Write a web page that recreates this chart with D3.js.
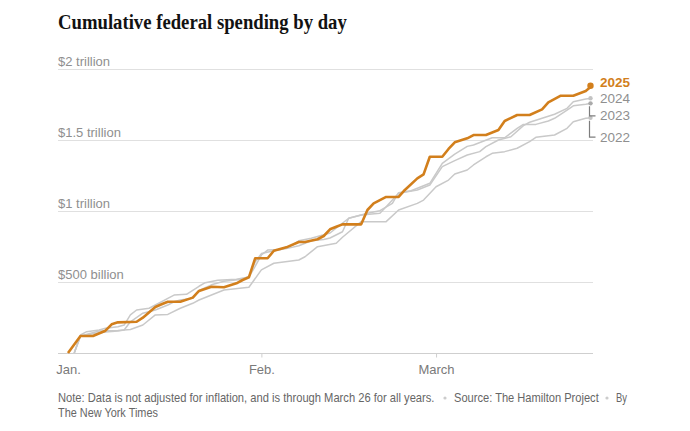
<!DOCTYPE html>
<html>
<head>
<meta charset="utf-8">
<script src="https://cdn.jsdelivr.net/npm/d3@7"></script>
<style>
  html, body { margin: 0; padding: 0; background: #fff; }
  svg { display: block; }
</style>
</head>
<body>
<svg id="chart" width="690" height="431"></svg>
<script>
// ---- Data (day index: Jan 1 = 0, Feb 1 = 31, Mar 1 = 59, Mar 26 = 84; values in $ billions) ----
const years = ["2022", "2023", "2024", "2025"];

const days2025 = [0,2,4,6,7,8,11,12,14,15,16,18,20,21,23,25,27,28,29,30,32,33,35,37,38,40,41,42,43,44,47,48,49,51,53,54,56,57,58,60,61,62,64,65,67,69,70,72,74,76,77,79,81,83,84];
const vals2025 = [0,120,120,157,202,216,220,249,324,343,361,361,390,437,467,463,491,514,533,667,667,720,744,782,782,801,824,871,889,906,906,1007,1054,1099,1099,1148,1230,1258,1382,1382,1437,1484,1512,1535,1535,1570,1634,1676,1676,1716,1765,1812,1812,1845,1882];

const days2024 = [1,2,4,6,8,9,10,12,14,16,17,18,20,21,23,25,28,29,30,31,33,35,37,39,41,42,44,45,47,50,51,53,56,58,60,62,64,66,67,69,71,73,74,76,78,80,81,83,84];
const vals2024 = [0,118,135,148,155,162,220,280,303,338,361,373,385,440,480,505,520,540,640,700,720,735,755,790,800,810,854,949,972,984,1030,1125,1148,1183,1312,1355,1394,1418,1453,1500,1523,1601,1625,1653,1681,1723,1770,1789,1794];

const days2023 = [1,2,3,5,6,8,9,10,11,13,15,16,17,19,21,22,24,27,29,30,31,32,34,36,37,39,40,42,45,47,48,50,52,53,55,56,58,59,60,62,64,65,68,70,72,73,75,77,78,80,81,83,84];
const vals2023 = [0,127,150,162,174,185,197,268,303,315,361,385,408,413,470,495,512,520,535,610,690,725,728,760,790,808,820,845,949,972,984,1002,1054,1129,1143,1160,1195,1265,1336,1400,1455,1465,1516,1516,1582,1610,1610,1634,1653,1711,1741,1751,1758];

const days2022 = [1,2,5,8,10,12,14,16,18,20,21,25,29,31,33,37,38,40,43,44,47,51,53,56,57,59,61,62,64,65,67,68,70,72,74,75,78,80,81,83,84];
const vals2022 = [0,120,155,158,165,197,268,272,315,350,373,444,463,585,632,655,678,749,773,815,925,925,1007,1054,1077,1171,1218,1260,1289,1324,1382,1406,1418,1442,1488,1519,1535,1582,1629,1653,1657];

const yTicks = [0, 500, 1000, 1500, 2000];
const yTickLabels = ["", "$500 billion", "$1 trillion", "$1.5 trillion", "$2 trillion"];
const xTicks = [0, 31, 59];
const xTickLabels = ["Jan.", "Feb.", "March"];

const title = "Cumulative federal spending by day";
const noteLine1a = "Note: Data is not adjusted for inflation, and is through March 26 for all years.";
const noteLine1b = "Source: The Hamilton Project";
const noteLine1c = "By";
const noteLine2 = "The New York Times";

// ---- Build series ----
const series = {
  "2022": days2022.map((d, i) => ({ d, v: vals2022[i] })),
  "2023": days2023.map((d, i) => ({ d, v: vals2023[i] })),
  "2024": days2024.map((d, i) => ({ d, v: vals2024[i] })),
  "2025": days2025.map((d, i) => ({ d, v: vals2025[i] }))
};

const svg = d3.select("#chart");
const x = d3.scaleLinear().domain([0, 84]).range([68, 592]);
const y = d3.scaleLinear().domain([0, 2000]).range([353, 69]);
const gridLeft = 58, gridRight = 593;

const orange = "#d27f1c";
const grayLine = "#c9c9c9";
const labelGray = "#8f8f8f";

// Helper: draw text squeezed horizontally to a target width (via transform)
function fittedText(str, x0, y0, width, size, fill, family, weight) {
  const g = svg.append("g");
  const t = g.append("text")
    .attr("x", 0).attr("y", 0)
    .attr("font-family", family)
    .attr("font-size", size)
    .attr("font-weight", weight || "normal")
    .attr("fill", fill)
    .text(str);
  const natural = t.node().getComputedTextLength();
  const sx = natural > 0 ? width / natural : 1;
  g.attr("transform", `translate(${x0},${y0}) scale(${sx},1)`);
  return t;
}

// Title
fittedText(title, 58, 29, 289, 21, "#121212", "'Liberation Serif', 'DejaVu Serif', serif", "bold");

// Gridlines and y labels
const grid = svg.append("g");
grid.selectAll("line.grid")
  .data(yTicks)
  .join("line")
  .attr("x1", gridLeft).attr("x2", gridRight)
  .attr("y1", d => y(d) + 0.5).attr("y2", d => y(d) + 0.5)
  .attr("stroke", d => d === 0 ? "#cfcfcf" : "#e0e0e0")
  .attr("stroke-width", 1);

grid.selectAll("text.ylab")
  .data(yTicks)
  .join("text")
  .attr("x", gridLeft)
  .attr("y", d => y(d) - 3.5)
  .attr("font-family", "'Liberation Sans', Arial, sans-serif")
  .attr("font-size", 13)
  .attr("fill", labelGray)
  .text((d, i) => yTickLabels[i]);

// X axis
const xAxis = d3.axisBottom(x)
  .tickValues(xTicks)
  .tickFormat((d, i) => xTickLabels[i])
  .tickSize(4)
  .tickPadding(7);
const gx = svg.append("g").attr("transform", `translate(0,${y(0) + 0.5})`).call(xAxis);
gx.select(".domain").remove();
gx.selectAll(".tick line").attr("stroke", "#cfcfcf").attr("opacity", (d, i) => i === 0 ? 0 : 1);
gx.selectAll(".tick text")
  .attr("font-family", "'Liberation Sans', Arial, sans-serif")
  .attr("font-size", 13)
  .attr("fill", "#7a7a7a");

// Lines
const line = d3.line().x(p => x(p.d)).y(p => y(p.v));
const lines = svg.append("g");
["2022", "2023", "2024"].forEach(yr => {
  lines.append("path")
    .datum(series[yr])
    .attr("fill", "none")
    .attr("stroke", grayLine)
    .attr("stroke-width", 1.5)
    .attr("stroke-linejoin", "round")
    .attr("d", line);
});
lines.append("path")
  .datum(series["2025"])
  .attr("fill", "none")
  .attr("stroke", orange)
  .attr("stroke-width", 2.6)
  .attr("stroke-linejoin", "round")
  .attr("d", line);

// End dots
years.forEach(yr => {
  const last = series[yr][series[yr].length - 1];
  svg.append("circle")
    .attr("cx", x(last.d) - 1.5).attr("cy", y(last.v))
    .attr("r", yr === "2025" ? 3.2 : 2.2)
    .attr("fill", yr === "2025" ? orange : (yr === "2023" ? "#aaaaaa" : "#c3c3c3"));
});

// Leader brackets for 2023 and 2022
const end2023 = series["2023"][series["2023"].length - 1];
const end2022 = series["2022"][series["2022"].length - 1];
const bx = x(84) - 2.5;
svg.append("path")
  .attr("d", `M${bx},${y(end2023.v) + 3}V${y(end2023.v) + 12.5}H${bx + 6}`)
  .attr("fill", "none").attr("stroke", "#7d7d7d").attr("stroke-width", 1.2);
svg.append("path")
  .attr("d", `M${bx},${y(end2022.v) + 3}V${y(end2022.v) + 19.5}H${bx + 6}`)
  .attr("fill", "none").attr("stroke", "#7d7d7d").attr("stroke-width", 1.2);

// Year labels
const labelX = 600;
const yearLabels = [
  { yr: "2025", yy: y(series["2025"][series["2025"].length - 1].v) + 1, color: orange, weight: "bold" },
  { yr: "2024", yy: 103, color: labelGray, weight: "normal" },
  { yr: "2023", yy: y(end2023.v) + 16.5, color: labelGray, weight: "normal" },
  { yr: "2022", yy: y(end2022.v) + 24, color: labelGray, weight: "normal" }
];
svg.selectAll("text.yl")
  .data(yearLabels)
  .join("text")
  .attr("x", labelX)
  .attr("y", d => d.yy)
  .attr("font-family", "'Liberation Sans', Arial, sans-serif")
  .attr("font-size", 13.5)
  .attr("font-weight", d => d.weight)
  .attr("fill", d => d.color)
  .text(d => d.yr);

// Notes (separate pieces, each squeezed to its measured width)
const noteFont = "'Liberation Sans Narrow', 'Liberation Sans', Arial, sans-serif";
fittedText(noteLine1a, 58, 402, 377, 12, "#666", noteFont);
svg.append("circle").attr("cx", 445).attr("cy", 398).attr("r", 1.6).attr("fill", "#cccccc");
fittedText(noteLine1b, 454, 402, 145, 12, "#666", noteFont);
svg.append("circle").attr("cx", 607).attr("cy", 398).attr("r", 1.6).attr("fill", "#cccccc");
fittedText(noteLine1c, 616, 402, 11, 12, "#666", noteFont);
fittedText(noteLine2, 58, 417, 100, 12, "#666", noteFont);
</script>
</body>
</html>
